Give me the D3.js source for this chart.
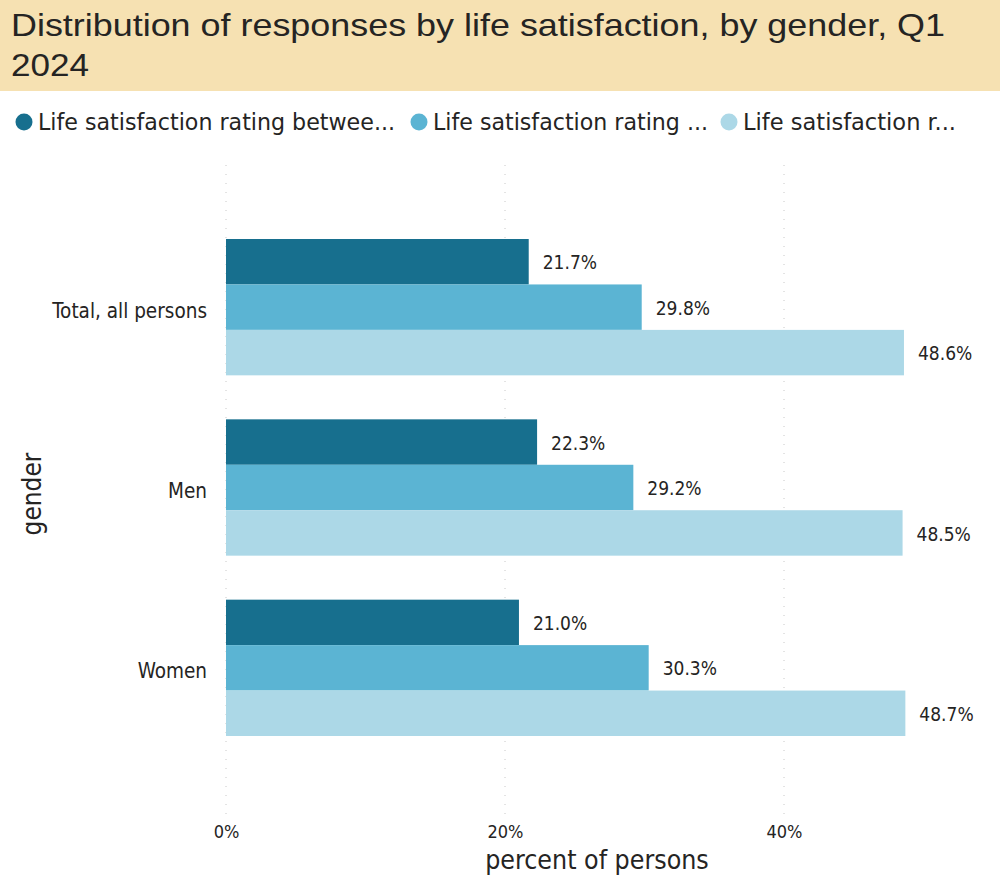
<!DOCTYPE html>
<html><head><meta charset="utf-8">
<script src="https://cdn.jsdelivr.net/npm/d3@7"></script>
<style>
body{margin:0;background:#fff;}
svg{display:block;}
</style></head>
<body>
<svg id="chart" width="1000" height="882"></svg>
<script>
const categories = ["Total, all persons", "Men", "Women"];
const seriesNames = ["Life satisfaction rating betwee...", "Life satisfaction rating ...", "Life satisfaction r..."];
const series1 = [21.7, 22.3, 21.0];
const series2 = [29.8, 29.2, 30.3];
const series3 = [48.6, 48.5, 48.7];
const xTicks = [0, 20, 40];
const colors = ["#176f8e", "#5bb4d3", "#acd8e7"];

const svg = d3.select("#chart");
const FONT = "'DejaVu Sans Condensed', 'DejaVu Sans', sans-serif";

// title
svg.append("rect").attr("x",0).attr("y",0).attr("width",1000).attr("height",91).attr("fill","#f6e1b2");
const TF = "'Liberation Sans', Arial, sans-serif";
svg.append("text").attr("x",11).attr("y",36).attr("font-family",TF).attr("font-size",31.5).attr("fill","#252423")
  .attr("textLength",934).attr("lengthAdjust","spacingAndGlyphs")
  .text("Distribution of responses by life satisfaction, by gender, Q1");
svg.append("text").attr("x",11).attr("y",76).attr("font-family",TF).attr("font-size",31.5).attr("fill","#252423")
  .attr("textLength",78).attr("lengthAdjust","spacingAndGlyphs").text("2024");

// legend
const legendX = [24, 419, 729];
const legendW = [357, 275, 213];
seriesNames.forEach((n,i)=>{
  const g = svg.append("g").attr("transform",`translate(${legendX[i]},122)`);
  g.append("circle").attr("r",8.5).attr("cx",0).attr("cy",0).attr("fill",colors[i]);
  g.append("text").attr("x",14).attr("y",8).attr("font-family",FONT).attr("font-size",23).attr("fill","#252423")
    .attr("textLength",legendW[i]).attr("lengthAdjust","spacingAndGlyphs").text(n);
});

const x = d3.scaleLinear().domain([0, 40]).range([226, 784]);
const y = d3.scaleBand().domain(categories).range([217, 758]).paddingInner(0.244).paddingOuter(0.122);
const y1 = d3.scaleBand().domain(d3.range(3)).range([0, y.bandwidth()]);

// gridlines
svg.append("g").selectAll("line").data(xTicks).join("line")
  .attr("x1",d=>x(d)).attr("x2",d=>x(d)).attr("y1",165).attr("y2",815)
  .attr("stroke","#c8c8c8").attr("stroke-width",1).attr("stroke-dasharray","1,8");

// x axis
const xAxis = d3.axisBottom(x).tickValues(xTicks).tickFormat(d=>d+"%").tickSize(0).tickPadding(0);
const gx = svg.append("g").attr("transform","translate(0,825)").call(xAxis);
gx.select(".domain").remove();
gx.selectAll("text").attr("font-family",FONT).attr("font-size",18).attr("fill","#252423").attr("dy","0.71em");

// y axis
const yAxis = d3.axisLeft(y).tickSize(0).tickPadding(19);
const gy = svg.append("g").attr("transform","translate(226,4)").call(yAxis);
gy.select(".domain").remove();
gy.selectAll("text").attr("font-family",FONT).attr("font-size",20.5).attr("fill","#252423");

// bars
const allSeries = [series1, series2, series3];
const rows = [];
categories.forEach((c,ci)=>allSeries.forEach((s,si)=>rows.push({cat:c, si, v:s[ci]})));
svg.append("g").selectAll("rect").data(rows).join("rect")
  .attr("x",x(0)).attr("y",d=>y(d.cat)+y1(d.si)).attr("width",d=>x(d.v)-x(0)).attr("height",y1.bandwidth())
  .attr("fill",d=>colors[d.si]);
svg.append("g").selectAll("text").data(rows).join("text")
  .attr("x",d=>x(d.v)+14).attr("y",d=>y(d.cat)+y1(d.si)+y1.bandwidth()/2+1).attr("dy","0.35em")
  .attr("font-family",FONT).attr("font-size",19).attr("fill","#252423").text(d=>d.v.toFixed(1)+"%");

// axis titles
svg.append("text").attr("transform","translate(41,494) rotate(-90)").attr("text-anchor","middle")
  .attr("font-family",FONT).attr("font-size",26).attr("fill","#252423").text("gender");
svg.append("text").attr("x",597).attr("y",869).attr("text-anchor","middle")
  .attr("font-family",FONT).attr("font-size",26.5).attr("fill","#252423").text("percent of persons");
</script>
</body></html>
